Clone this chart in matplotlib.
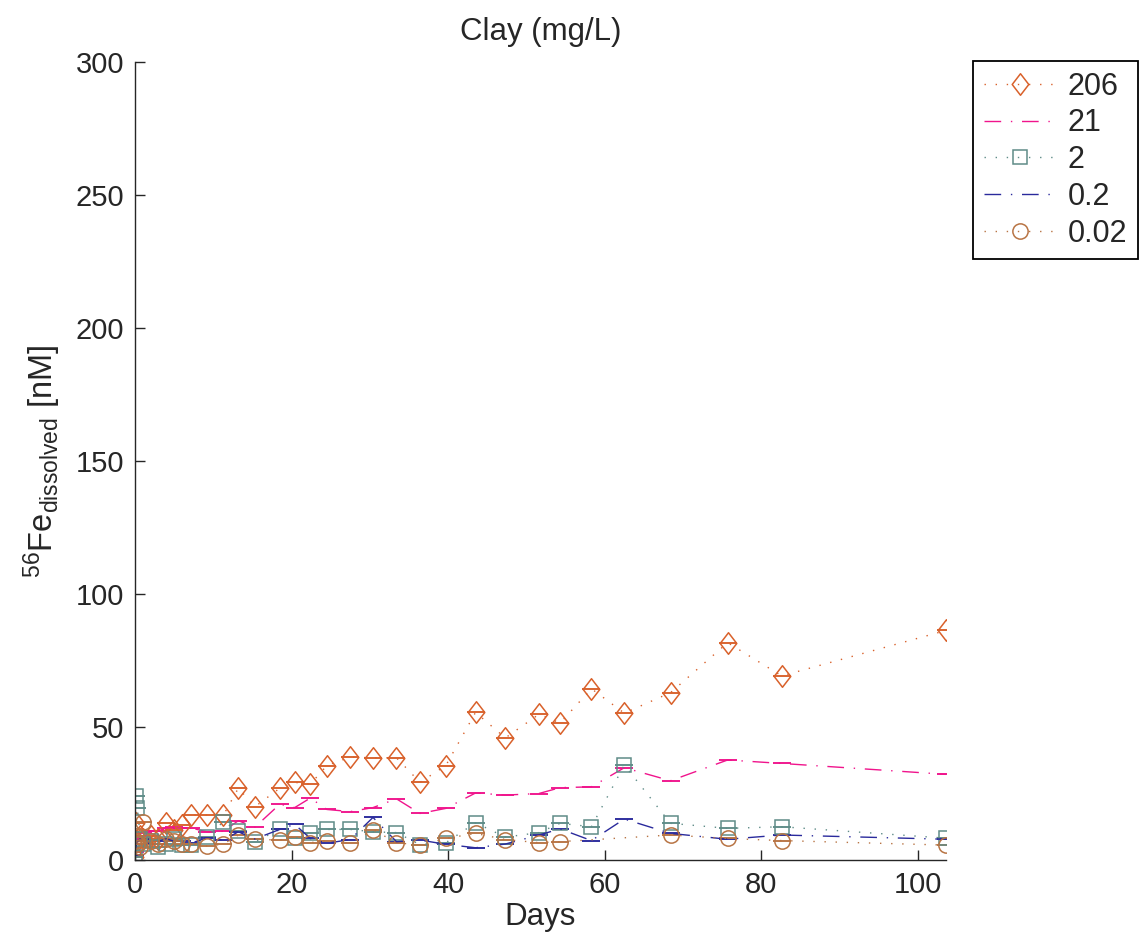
import numpy as np
import matplotlib
matplotlib.use("Agg")
import matplotlib.pyplot as plt
from matplotlib.path import Path
from matplotlib.lines import Line2D

plt.rcParams['font.family'] = ['Liberation Sans', 'DejaVu Sans']
plt.rcParams['font.size'] = 22
plt.rcParams['mathtext.default'] = 'regular'

# Sampling days (shared by all clay additions)
days = [0, 0.1, 0.3, 0.7, 1, 2, 3, 4, 5, 6,
        7.2, 9.2, 11.3, 13.2, 15.3, 18.5, 20.4, 22.4, 24.5, 27.5,
        30.4, 33.4, 36.4, 39.7, 43.5, 47.3, 51.6, 54.3, 58.3, 62.5,
        68.4, 75.7, 82.6, 103.6]

# Dissolved 56Fe (nM) for each clay concentration (mg/L)
fe_206 = [1, 14, 7, 9, 8, 9, 8, 13.8, 11.3, 13,
          16.9, 16.9, 16.9, 27, 20, 27, 29.2, 28.5, 35.5, 38.7,
          38.4, 38.4, 29.2, 35.5, 55.5, 45.9, 54.8, 51.5, 64.4, 55.2,
          62.9, 81.7, 69.2, 86.3]
fe_21 = [3, 6, 8, 9, 10, 11, 11, 12, 12.5, 12,
         12, 10.6, 10.8, 14.8, 12.3, 21, 19.7, 23.3, 19, 18.2,
         19.7, 23, 17.5, 19.4, 25.2, 24.4, 25, 27.2, 27.5, 34.7,
         29.8, 37.6, 36.3, 32.2]
fe_2 = [1, 24, 19.5, 8, 6, 7, 5, 6, 8, 5.6,
        5.6, 8.8, 14.4, 11, 6.9, 11.5, 8.1, 10.3, 11.5, 11.5,
        10.6, 10.3, 5.8, 6.5, 14, 8.6, 10.3, 13.8, 12.5, 35.7,
        13.8, 11.9, 12.5, 8.2]
fe_02 = [2, 5, 7, 8, 7, 6, 7, 8, 7, 7,
         6.4, 8.3, 7.5, 10.6, 7.9, 11.5, 13.4, 8.1, 6.3, 7.7,
         16, 6.9, 7.5, 5.9, 4.6, 6.0, 9.4, 11.7, 7.3, 15.4,
         10, 7.8, 9.4, 7.8]
fe_002 = [7, 9, 6, 5, 14.4, 7, 6, 8, 7, 6,
          6, 5.2, 6, 9.4, 7.8, 7.5, 8.8, 6.5, 7.3, 6.3,
          11.4, 6.5, 5.6, 8.1, 10, 7.7, 6.5, 6.9, np.nan, np.nan,
          9.4, 8.1, 7.3, 5.6]

labels = ['206', '21', '2', '0.2', '0.02']
series = [fe_206, fe_21, fe_2, fe_02, fe_002]

# MATLAB-like tall diamond marker
diamond = Path([(0, 1), (0.77, 0), (0, -1), (-0.77, 0), (0, 1)],
               [Path.MOVETO, Path.LINETO, Path.LINETO, Path.LINETO, Path.CLOSEPOLY])

dotted = (0, (1, 7))
dashdot = (0, (12, 7, 1, 7))

styles = [
    dict(color='#D9612B', ls=dotted, marker=diamond, ms=15.5),
    dict(color='#F0148C', ls=dashdot, marker='None', ms=0),
    dict(color='#5F8C88', ls=dotted, marker='s', ms=10.5),
    dict(color='#2A2A9C', ls=dashdot, marker='None', ms=0),
    dict(color='#B87444', ls=dotted, marker='o', ms=11),
]

fig = plt.figure(figsize=(11.44, 9.4), dpi=100)
ax = fig.add_axes([0.118, 0.0851, 0.709, 0.849])

x_all = np.array(days, dtype=float)
handles = []
for vals, st, lab in zip(series, styles, labels):
    y = np.array(vals, dtype=float)
    ok = ~np.isnan(y)
    x, y = x_all[ok], y[ok]
    ax.errorbar(x, y, yerr=np.zeros_like(y), color=st['color'], ls=st['ls'],
                lw=1, marker=st['marker'], ms=st['ms'], mfc='none',
                mec=st['color'], mew=1.1, capsize=6.5, capthick=2.2,
                elinewidth=1)
    handles.append(Line2D([], [], color=st['color'], ls=st['ls'], lw=1,
                          marker=st['marker'], ms=st['ms'], mfc='none',
                          mec=st['color'], mew=1.1))

ax.set_xlim(0, 103.6)
ax.set_ylim(0, 300)
ax.set_xticks([0, 20, 40, 60, 80, 100])
ax.set_yticks([0, 50, 100, 150, 200, 250, 300])
for side in ('top', 'right'):
    ax.spines[side].set_visible(False)
for side in ('left', 'bottom'):
    ax.spines[side].set_color('#262626')
    ax.spines[side].set_linewidth(1)
ax.tick_params(direction='in', length=7, width=1, pad=8, colors='#262626',
               labelcolor='#262626', labelsize=21)

ax.set_title('Clay (mg/L)', fontsize=22.5, pad=16, color='#262626')
ax.set_xlabel('Days', fontsize=22.5, labelpad=2, color='#262626')
ax.set_ylabel(r'$^{56}$Fe$_{dissolved}$ [nM]', fontsize=23.5, labelpad=9,
              color='#262626')

leg = ax.legend(handles, labels, loc='upper left',
                bbox_to_anchor=(973 / 1144, 1 - 61 / 940),
                bbox_transform=fig.transFigure, borderaxespad=0,
                numpoints=1, handlelength=2.35, handletextpad=0.4,
                labelspacing=0.22, borderpad=0.35, fontsize=22,
                fancybox=False, framealpha=1)
leg.get_frame().set_edgecolor('black')
leg.get_frame().set_linewidth(1.3)
for t in leg.get_texts():
    t.set_color('#262626')

fig.savefig('out.png', dpi=100)
